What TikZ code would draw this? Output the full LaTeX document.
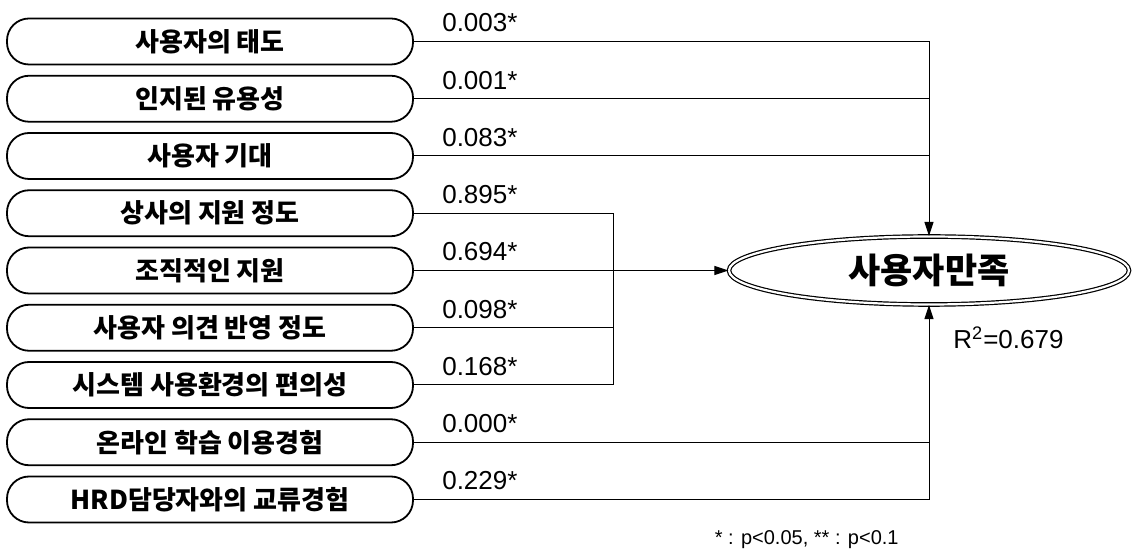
\documentclass[tikz,border=0pt]{standalone}
\usepackage{fontspec}
\setmainfont{Liberation Sans}
\newfontfamily\kor{Noto Sans CJK KR}
\usetikzlibrary{arrows.meta,positioning,shapes.geometric}

\begin{document}
\begin{tikzpicture}[x=0.5pt,y=-0.5pt,
	factor/.style={draw,line width=0.9pt,rounded corners=11pt,minimum width=203pt,minimum height=23pt,inner sep=0pt,font=\kor\bfseries\fontsize{13}{14}\selectfont},
	coef/.style={inner sep=1pt,font=\fontsize{13}{14}\selectfont},
	link/.style={line width=0.5pt},
	arr/.style={link,-{Triangle[length=7pt,width=4.5pt]}},
	target/.style={ellipse,draw,double,line width=0.6pt,double distance=1.1pt,minimum width=200pt,minimum height=34pt,inner sep=0pt,font=\kor\bfseries\fontsize{17.5}{18}\selectfont}]
				\def\bx{210};
				\def\hubx{613};
				\useasboundingbox (0,0) rectangle (1134,549);
				\node[factor] (b1) at (\bx,41.5) {사용자의 태도};
				\node[factor] (b2) at (\bx,98.75) {인지된 유용성};
				\node[factor] (b3) at (\bx,156) {사용자 기대};
				\node[factor] (b4) at (\bx,213.25) {상사의 지원 정도};
				\node[factor] (b5) at (\bx,270.5) {조직적인 지원};
				\node[factor] (b6) at (\bx,327.75) {사용자 의견 반영 정도};
				\node[factor] (b7) at (\bx,385) {시스템 사용환경의 편의성};
				\node[factor] (b8) at (\bx,442.25) {온라인 학습 이용경험};
				\node[factor] (b9) at (\bx,499.5) {HRD담당자와의 교류경험};
				\node[target] (sat) at (929,270.5) {사용자만족};
				\coordinate (hub) at (\hubx,0);
				\node[coef,above right=3.5pt and 13pt of b1.east] (c1) {0.003*};
				\node[coef,above right=3.5pt and 13pt of b2.east] (c2) {0.001*};
				\node[coef,above right=3.5pt and 13pt of b3.east] (c3) {0.083*};
				\node[coef,above right=3.5pt and 13pt of b4.east] (c4) {0.895*};
				\node[coef,above right=3.5pt and 13pt of b5.east] (c5) {0.694*};
				\node[coef,above right=3.5pt and 13pt of b6.east] (c6) {0.098*};
				\node[coef,above right=3.5pt and 13pt of b7.east] (c7) {0.168*};
				\node[coef,above right=3.5pt and 13pt of b8.east] (c8) {0.000*};
				\node[coef,above right=3.5pt and 13pt of b9.east] (c9) {0.229*};
				\draw[arr] (b1.east) -| (sat.north);
				\draw[link] (b2.east) -- (b2.east -| sat.north)
				(b3.east) -- (b3.east -| sat.north);
				\draw[link] (b4.east) -- (b4.east -| hub) -- (b7.east -| hub) -- (b7.east)
				(b6.east) -- (b6.east -| hub);
				\draw[arr] (b5.east) -- (sat.west);
				\draw[arr] (b9.east) -| (sat.south);
				\draw[link] (b8.east) -- (b8.east -| sat.south);
				\node[coef,anchor=west] (rsq) at (951,338) {R\textsuperscript{2}=0.679};
				\node[inner sep=0pt,anchor=east,font=\fontsize{10}{11}\selectfont] (note) at (899,540) {* : p<0.05, ** : p<0.1};
			\end{tikzpicture}
\end{document}
